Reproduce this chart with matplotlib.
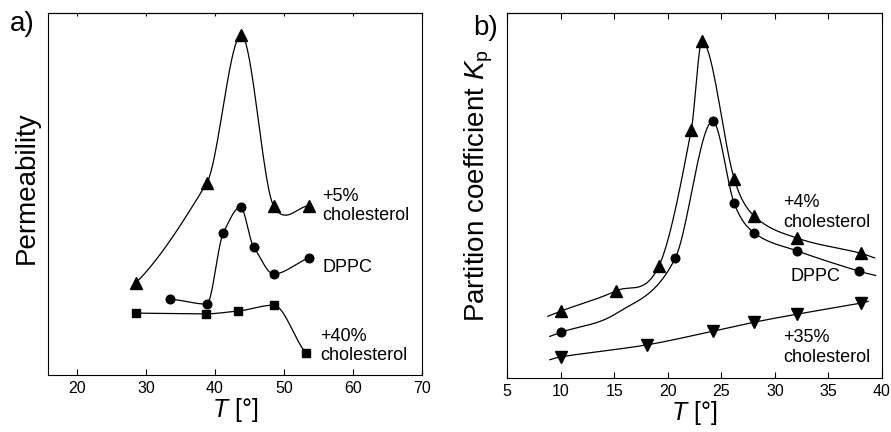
import numpy as np
import matplotlib
matplotlib.use("Agg")
from matplotlib import pyplot as plt

plt.rcParams['font.family'] = ['Liberation Sans', 'DejaVu Sans']
plt.rcParams['mathtext.fontset'] = 'custom'
plt.rcParams['mathtext.rm'] = 'Liberation Sans'
plt.rcParams['mathtext.it'] = 'Liberation Sans:italic'

# --- a) permeability vs temperature (arbitrary units) ---
T_chol5 = [28.5, 38.8, 43.8, 48.5, 53.6]
P_chol5 = [25.4, 53.0, 93.9, 46.7, 46.7]
T_dppc_a = [33.5, 38.8, 41.2, 43.7, 45.6, 48.5, 53.6]
P_dppc = [21.0, 19.6, 39.2, 46.4, 35.4, 27.9, 32.3]
T_chol40 = [28.5, 38.7, 43.4, 48.5, 53.2]
P_chol40 = [17.1, 16.9, 17.7, 19.3, 6.1]

# --- b) partition coefficient vs temperature (arbitrary units) ---
T_chol4 = [10.0, 15.2, 19.2, 22.2, 23.2, 26.2, 28.1, 32.1, 38.0]
K_chol4 = [18.3, 23.9, 30.8, 68.0, 92.2, 54.6, 44.3, 38.3, 34.2]
T_dppc_b = [10.0, 20.7, 24.2, 26.2, 28.1, 32.1, 37.9]
K_dppc = [12.5, 32.8, 70.3, 47.9, 39.7, 34.8, 29.2]
T_chol35 = [10.0, 18.1, 24.2, 28.1, 32.1, 38.0]
K_chol35 = [5.8, 9.1, 12.8, 15.3, 17.5, 20.5]

# fitted curves in b run a bit past the data (ends)
fit_chol4_T = [8.8, 39.3]
fit_chol4_K = [16.9, 32.9]
fit_dppc_T = [9.0, 15.2, 39.4]   # extra knot at 15.2 where the fit sags
fit_dppc_K = [11.4, 17.7, 28.1]
fit_chol35_T = [9.0, 38.7]
fit_chol35_K = [5.0, 21.0]


def smooth(x, y, tension=0.0, n=40):
    """Cubic Hermite curve through the points (flat at local peaks/dips)."""
    x = np.asarray(x, float)
    y = np.asarray(y, float)
    order = np.argsort(x)
    x, y = x[order], y[order]
    d = np.diff(y) / np.diff(x)
    m = np.empty_like(y)
    m[0], m[-1] = d[0], d[-1]
    for i in range(1, len(x) - 1):
        if d[i - 1] * d[i] < 0:
            m[i] = 0.0
        else:
            m[i] = (y[i + 1] - y[i - 1]) / (x[i + 1] - x[i - 1])
    m *= (1 - tension)
    xs, ys = [], []
    for i in range(len(x) - 1):
        h = x[i + 1] - x[i]
        t = np.linspace(0, 1, n)
        h00 = 2 * t**3 - 3 * t**2 + 1
        h10 = t**3 - 2 * t**2 + t
        h01 = -2 * t**3 + 3 * t**2
        h11 = t**3 - t**2
        xs.append(x[i] + t * h)
        ys.append(h00 * y[i] + h10 * h * m[i] + h01 * y[i + 1] + h11 * h * m[i + 1])
    return np.concatenate(xs), np.concatenate(ys)


def curve_with_markers(ax, T, V, marker, ms, fitT=None, fitV=None, tension=0.0):
    kT, kV = list(T), list(V)
    if fitT is not None:
        kT += list(fitT)
        kV += list(fitV)
    xs, ys = smooth(kT, kV, tension)
    ax.plot(xs, ys, color='black', lw=0.9)
    ax.plot(T, V, linestyle='none', marker=marker, ms=ms, color='black')


def style_axis(ax, xlim, xticks, top_len):
    ax.set_xlim(*xlim)
    ax.set_ylim(0, 100)
    ax.set_xticks(xticks)
    ax.set_yticks([])
    ax.tick_params(axis='x', direction='in', length=4.5, width=0.8, pad=4, labelsize=11.5)
    top = ax.secondary_xaxis('top')
    top.set_xticks(xticks)
    top.tick_params(direction='in', length=top_len, width=0.8, labeltop=False)
    for s in ax.spines.values():
        s.set_linewidth(0.8)
    ax.set_xlabel(r'$T$ [°]', fontsize=18, labelpad=0)


fig = plt.figure(figsize=(8.91, 4.32), dpi=100)
ax_a = fig.add_axes([0.0539, 0.1319, 0.4197, 0.838])
ax_b = fig.add_axes([0.569, 0.125, 0.4209, 0.845])

# --- a) ---
curve_with_markers(ax_a, T_chol5, P_chol5, '^', 8.5, tension=0.3)
curve_with_markers(ax_a, T_dppc_a, P_dppc, 'o', 6.2, tension=0.3)
curve_with_markers(ax_a, T_chol40, P_chol40, 's', 6.2, tension=0.3)
style_axis(ax_a, (15.8, 70), [20, 30, 40, 50, 60, 70], 2.5)
ax_a.set_ylabel('Permeability', fontsize=20)
ax_a.yaxis.set_label_coords(-0.022, 0.517)
ax_a.text(0.733, 0.467, '+5%\ncholesterol', transform=ax_a.transAxes, fontsize=13, va='center', ha='left')
ax_a.text(0.733, 0.296, 'DPPC', transform=ax_a.transAxes, fontsize=13, va='center', ha='left')
ax_a.text(0.727, 0.080, '+40%\ncholesterol', transform=ax_a.transAxes, fontsize=13, va='center', ha='left')
fig.text(0.025, 0.945, 'a)', fontsize=20, va='center', ha='center')

# --- b) ---
curve_with_markers(ax_b, T_chol4, K_chol4, '^', 9, fit_chol4_T, fit_chol4_K)
curve_with_markers(ax_b, T_dppc_b, K_dppc, 'o', 6.2, fit_dppc_T, fit_dppc_K)
curve_with_markers(ax_b, T_chol35, K_chol35, 'v', 8.5, fit_chol35_T, fit_chol35_K)
style_axis(ax_b, (5, 40), [5, 10, 15, 20, 25, 30, 35, 40], 4.5)
ax_b.set_ylabel(r'Partition coefficient $K_\mathrm{p}$', fontsize=20)
ax_b.yaxis.set_label_coords(-0.032, 0.526)
ax_b.text(0.736, 0.453, '+4%\ncholesterol', transform=ax_b.transAxes, fontsize=13, va='center', ha='left')
ax_b.text(0.755, 0.279, 'DPPC', transform=ax_b.transAxes, fontsize=13, va='center', ha='left')
ax_b.text(0.736, 0.084, '+35%\ncholesterol', transform=ax_b.transAxes, fontsize=13, va='center', ha='left')
fig.text(0.545, 0.935, 'b)', fontsize=20, va='center', ha='center')

fig.savefig('out.png', dpi=100)
